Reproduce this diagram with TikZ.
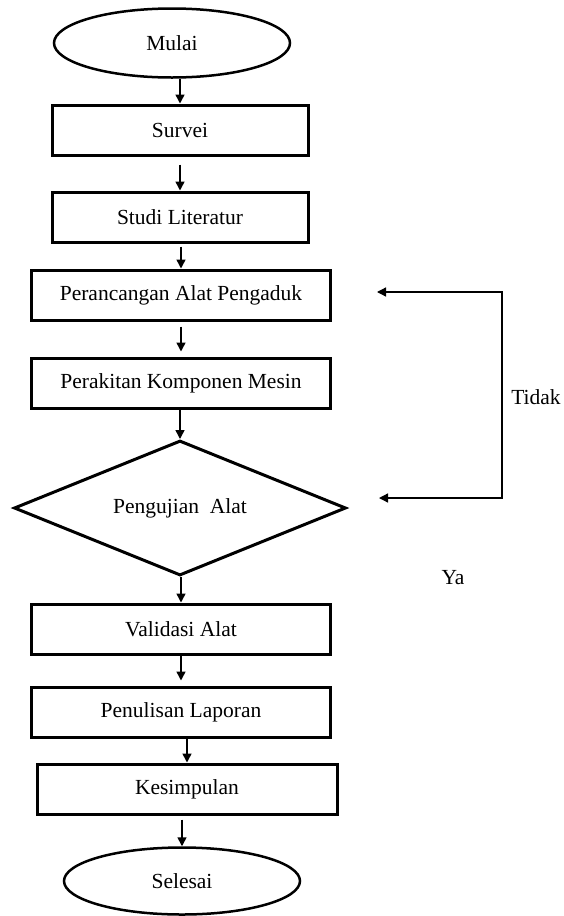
\documentclass[tikz,border=0pt]{standalone}
\usepackage{fontspec}
\setmainfont{Liberation Serif}
\usetikzlibrary{shapes.geometric, arrows.meta}
\tikzset{terminal/.style={draw,ellipse,line width=2.5pt,minimum width=236pt,minimum height=69pt,inner sep=0pt},
         proses/.style={draw,line width=3pt,minimum width=256pt,minimum height=50pt,inner sep=0pt},
         keputusan/.style={draw,diamond,aspect=2.46,line width=3pt,minimum width=332pt,minimum height=135pt,inner sep=0pt},
         panah/.style={-{Triangle[length=9pt,width=9pt]},line width=1.5pt},
        }

\begin{document}
\begin{tikzpicture}[x=1pt,y=-1pt,font=\fontsize{21.5}{26}\selectfont]
        \useasboundingbox(0,0)rectangle(563,916);
        \node[terminal](mulai)at(172,43){Mulai};
        \node[proses](survei)at(180,130){Survei};
        \node[proses](studi)at(180,217){Studi Literatur};
        \node[proses,minimum width=299pt](rancang)at(181,295){Perancangan Alat Pengaduk};
        \node[proses,minimum width=299pt](rakit)at(181,383){Perakitan Komponen Mesin};
        \node[keputusan](uji)at(180,508){Pengujian\ \ Alat};
        \node[proses,minimum width=299pt](validasi)at(181,629){Validasi Alat};
        \node[proses,minimum width=299pt](laporan)at(181,712){Penulisan Laporan};
        \node[proses,minimum width=300pt](simpul)at(187,789){Kesimpulan};
        \node[terminal,minimum height=67pt](selesai)at(182,881){Selesai};
        \draw[panah](survei.north|-mulai.south)--(survei.north);
        \draw[panah,shorten <=8pt](studi.north|-survei.south)--(studi.north);
        \draw[panah,shorten <=3pt](rancang.north|-studi.south)--(rancang.north);
        \draw[panah,shorten <=5pt,shorten >=5pt](rakit.north|-rancang.south)--(rakit.north);
        \draw[panah](uji.north|-rakit.south)--(uji.north);
        \draw[panah](validasi.north|-uji.south)--(validasi.north);
        \draw[panah,shorten >=5pt](laporan.north|-validasi.south)--(laporan.north);
        \draw[panah](simpul.north|-laporan.south)--(simpul.north);
        \draw[panah,shorten <=4pt](selesai.north|-simpul.south)--(selesai.north);
        % jalur kembali (Tidak)
        \coordinate(fbatas)at(502,292);
        \coordinate(fbbawah)at(502,498);
        \coordinate(ujungatas)at(377,292);
        \coordinate(ujungbawah)at(379,498);
        \draw[{Triangle[length=9pt,width=9pt]}-{Triangle[length=9pt,width=9pt]},line width=1.3pt](ujungatas)--(fbatas)--(fbbawah)--(ujungbawah);
        \node(tidak)at(536,397){Tidak};
        \node(ya)at(453,578){Ya};
    \end{tikzpicture}
\end{document}
